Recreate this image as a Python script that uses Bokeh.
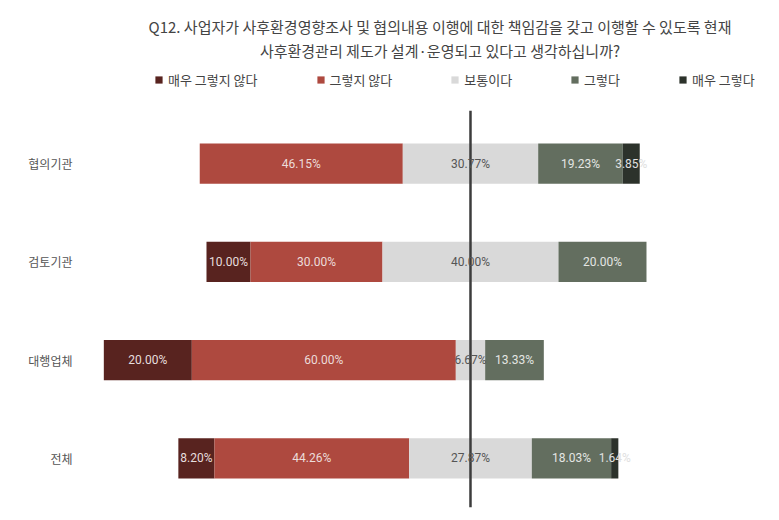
from bokeh.plotting import figure
from bokeh.models import ColumnDataSource, Legend, LegendItem, Title, FixedTicker, Range1d
from bokeh.core.properties import value
from bokeh.embed import file_html
from bokeh.resources import INLINE

# ---------------- data ----------------
categories = ["협의기관", "검토기관", "대행업체", "전체"]
very_neg = [0.0, 10.00, 20.00, 8.20]
neg = [46.15, 30.00, 60.00, 44.26]
neutral = [30.77, 40.00, 6.67, 27.87]
pos = [19.23, 20.00, 13.33, 18.03]
very_pos = [3.85, 0.0, 0.0, 1.64]
series_names = ["매우 그렇지 않다", "그렇지 않다", "보통이다", "그렇다", "매우 그렇다"]
colors = ["#58231f", "#ae493f", "#d9d9d9", "#636e5f", "#2c322b"]
label_colors = ["#e6dede", "#ecdcda", "#555555", "#e4e6e3", "#e0e0e0"]
title_line1 = "Q12. 사업자가 사후환경영향조사 및 협의내용 이행에 대한 책임감을 갖고 이행할 수 있도록 현재"
title_line2 = "사후환경관리 제도가 설계·운영되고 있다고 생각하십니까?"

KR = "Noto Sans CJK KR"
ypos = list(range(len(categories)))[::-1]  # first category on top

p = figure(width=779, height=520, output_backend="svg", toolbar_location=None,
           title=None,
           x_range=Range1d(-84.09, 70.23), y_range=Range1d(-0.5, 4.03),
           min_border_left=100, min_border_right=0, min_border_bottom=13, min_border_top=62)

p.xaxis.visible = False
p.xgrid.grid_line_color = None
p.ygrid.grid_line_color = None
p.outline_line_color = None
p.yaxis.ticker = FixedTicker(ticks=ypos)
p.yaxis.major_label_overrides = {y: c for y, c in zip(ypos, categories)}
p.yaxis.axis_line_color = None
p.yaxis.major_tick_line_color = None
p.yaxis.minor_tick_line_color = None
p.yaxis.major_tick_out = 0
p.yaxis.major_label_standoff = 28
p.yaxis.major_label_text_font = KR
p.yaxis.major_label_text_font_size = "12px"
p.yaxis.major_label_text_color = "#555555"

series = [very_neg, neg, neutral, pos, very_pos]
starts = [-(a + b + c / 2.0) for a, b, c in zip(very_neg, neg, neutral)]

renderers = []
tx, ty, tt, tc = [], [], [], []
cur = list(starts)
for k, vals in enumerate(series):
    lefts = list(cur)
    rights = [l + v for l, v in zip(lefts, vals)]
    src = ColumnDataSource(dict(y=ypos, left=lefts, right=rights))
    r = p.hbar(y="y", left="left", right="right", height=0.41, source=src,
               fill_color=colors[k], line_color=None)
    renderers.append(r)
    for y, l, rr, v in zip(ypos, lefts, rights, vals):
        if v > 0:
            tx.append((l + rr) / 2.0)
            ty.append(y)
            tt.append(f"{v:.2f}%")
            tc.append(label_colors[k])
    cur = rights

# centre line
p.segment(x0=[0], y0=[-0.5], x1=[0], y1=[3.54], line_color="#3c3c3c", line_width=2.5)

tsrc = ColumnDataSource(dict(x=tx, y=ty, t=tt, c=tc))
p.text(x="x", y="y", text="t", source=tsrc, text_color="c", text_align="center",
       text_baseline="middle", text_font=value("Roboto"), text_font_size="12px")

legend = Legend(items=[LegendItem(label=n, renderers=[r]) for n, r in zip(series_names, renderers)],
                orientation="horizontal", location=(54, 418),
                padding=0, margin=0, spacing=58, border_line_color=None,
                background_fill_alpha=0, glyph_width=9, glyph_height=9,
                label_standoff=5, label_height=14,
                label_text_font=KR, label_text_font_size="13px", label_text_color="#444444")
p.add_layout(legend)

t2 = Title(text=title_line2, align="center", text_font=KR, text_font_size="15px",
           text_font_style="normal", text_color="#444444", offset=6, standoff=3)
t1 = Title(text=title_line1, align="center", text_font=KR, text_font_size="15px",
           text_font_style="normal", text_color="#444444", offset=8, standoff=0)
p.add_layout(t2, "above")
p.add_layout(t1, "above")

open("out.html", "w").write(file_html(p, INLINE))
